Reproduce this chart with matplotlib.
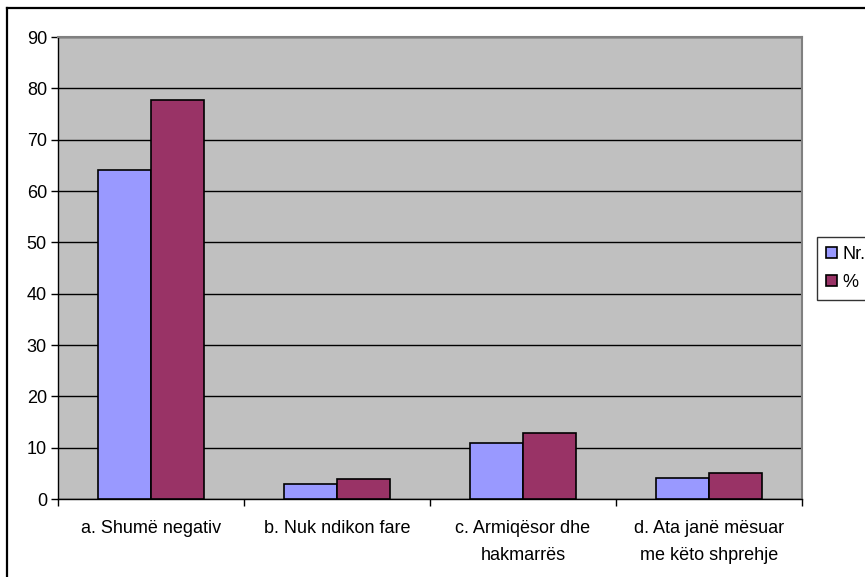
import matplotlib.pyplot as plt
import numpy as np
from matplotlib.lines import Line2D

categories = [
    "a. Shumë negativ",
    "b. Nuk ndikon fare",
    "c. Armiqësor dhe\nhakmarrës",
    "d. Ata janë mësuar\nme këto shprehje",
]
nr_values = [64, 3, 11, 4]
pct_values = [77.7, 3.9, 12.9, 5.1]
series_labels = ["Nr.", "%"]
yticks = list(range(0, 100, 10))

plt.rcParams["font.family"] = ["Liberation Sans", "DejaVu Sans"]

W, H = 865, 577
fig = plt.figure(figsize=(W / 100, H / 100), dpi=100)
ax = fig.add_axes([58 / W, 1 - 499 / H, (802 - 58) / W, (499 - 37) / H])
ax.set_facecolor("#C0C0C0")

x = np.arange(len(categories))
w = 1 / 3.5
ax.bar(x - w / 2, nr_values, w, color="#9999FF", edgecolor="black", linewidth=1.2,
       label=series_labels[0], zorder=3)
ax.bar(x + w / 2, pct_values, w, color="#993366", edgecolor="black", linewidth=1.2,
       label=series_labels[1], zorder=3)

ax.set_xlim(-0.5, len(categories) - 0.5)
ax.set_ylim(0, 90)
ax.set_yticks(yticks)
ax.tick_params(axis="y", labelsize=13, length=5, width=1, pad=3)
ax.yaxis.grid(True, color="black", linewidth=1, zorder=1)
ax.set_axisbelow(True)

# ticks at category edges, labels at centres
ax.set_xticks(np.arange(len(categories) + 1) - 0.5)
ax.set_xticklabels([])
ax.tick_params(axis="x", which="major", length=5, width=1)
ax.set_xticks(x, minor=True)
ax.set_xticklabels(categories, minor=True, fontsize=13, linespacing=1.8)
ax.tick_params(axis="x", which="minor", length=0, pad=15)

for s in ["top", "right"]:
    ax.spines[s].set_color("#808080")
    ax.spines[s].set_linewidth(1.5)
for s in ["left", "bottom"]:
    ax.spines[s].set_color("black")
    ax.spines[s].set_linewidth(1)

leg = ax.legend(loc="upper left", bbox_to_anchor=(817 / W, 1 - 237 / H),
                bbox_transform=fig.transFigure, borderaxespad=0, fontsize=13,
                frameon=True, fancybox=False, handlelength=0.6, handleheight=0.6,
                handletextpad=0.3, labelspacing=0.6, borderpad=0.5)
leg.get_frame().set_edgecolor("black")
leg.get_frame().set_linewidth(1)

# outer chart border (right and bottom fall outside the image)
fig.add_artist(Line2D([7.5 / W, 7.5 / W], [0, 1 - 7.5 / H], color="black", linewidth=1.6,
                      transform=fig.transFigure))
fig.add_artist(Line2D([7.5 / W, 1], [1 - 7.5 / H, 1 - 7.5 / H], color="black", linewidth=1.6,
                      transform=fig.transFigure))

fig.savefig("out.png", dpi=100)
